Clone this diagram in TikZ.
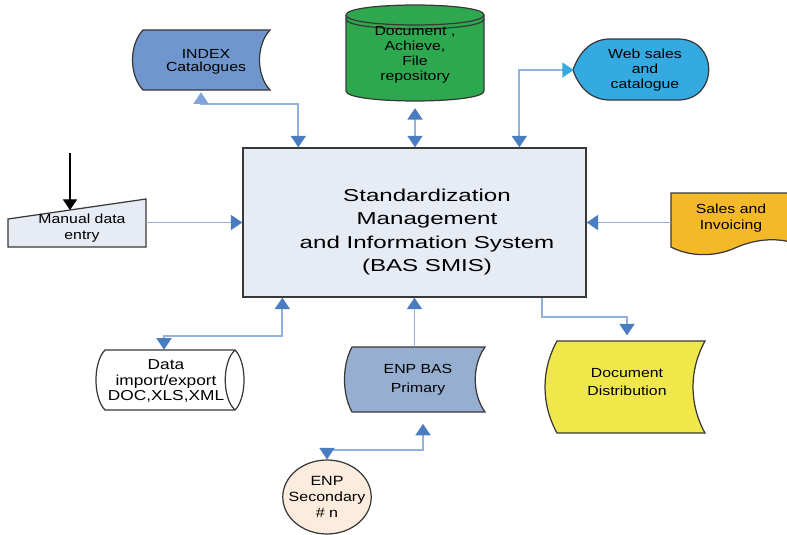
\documentclass[tikz,border=0pt]{standalone}
\usepackage{fontspec}
\usetikzlibrary{arrows.meta,calc,shapes.geometric}
\newfontfamily\labfont{Liberation Sans}[FakeStretch=1.2]
\newfontfamily\smisfont{Liberation Sans}[FakeStretch=1.4]

\definecolor{shapegray}{HTML}{383838}
\definecolor{boxfill}{HTML}{E7EBF4}
\definecolor{idxblue}{HTML}{7096CE}
\definecolor{docgreen}{HTML}{2EA84E}
\definecolor{webblue}{HTML}{34AAE0}
\definecolor{salesorange}{HTML}{F4B928}
\definecolor{pribas}{HTML}{96AED0}
\definecolor{distyellow}{HTML}{F0E84A}
\definecolor{secpeach}{HTML}{FCECDE}
\definecolor{linkblue}{HTML}{92B0DC}
\definecolor{headblue}{HTML}{4A7CC0}
\definecolor{lightheadblue}{HTML}{7FA3DA}

\tikzset{
  outline/.style={draw=shapegray,line width=0.7pt},
  lab/.style={font=\labfont\fontsize{7.5}{8.8}\selectfont,align=center,inner sep=0pt},
  link/.style={draw=linkblue,line width=1pt},
  hd/.tip={Triangle[width=8.5pt,length=6.5pt,color=headblue]},
  lhd/.tip={Triangle[width=8.5pt,length=6.5pt,color=lightheadblue]},
  whd/.tip={Triangle[width=8.5pt,length=6.5pt,color=webblue]},
}

\begin{document}
\begin{tikzpicture}[x=0.02cm,y=-0.02cm]
\useasboundingbox (0,0) rectangle (787,534);

% outlines
\filldraw[outline,fill=idxblue] (143,30) .. controls (129,45) and (129,75) .. (143,90) -- (270,90) .. controls (256,75) and (256,45) .. (270,30) -- cycle;
\filldraw[outline,fill=docgreen] (346,15) -- (346,91) .. controls (346,104.3) and (484,104.3) .. (484,91) -- (484,15) .. controls (484,1.7) and (346,1.7) .. (346,15) -- cycle;
\draw[outline] (346,15) .. controls (346,28.3) and (484,28.3) .. (484,15);
\draw[outline] (346,19) .. controls (346,32.3) and (484,32.3) .. (484,19);
\filldraw[outline,fill=webblue] (573,70) .. controls (580,50) and (593,39) .. (610,39) -- (678,39) .. controls (719,39) and (719,100) .. (678,100) -- (610,100) .. controls (593,100) and (580,90) .. (573,70) -- cycle;
\filldraw[outline,fill=boxfill] (8,219) -- (146,199) -- (146,247) -- (8,247) -- cycle;
\filldraw[outline,fill=salesorange] (671,193) -- (671,247) .. controls (690,257) and (715,257) .. (735,248) .. controls (755,239) and (775,238) .. (790,242) -- (790,193) -- cycle;
\filldraw[outline,fill=white] (105,350) .. controls (93,362) and (93,398) .. (105,410) -- (235,410) .. controls (247,398) and (247,362) .. (235,350) -- cycle;
\draw[outline] (235,350) .. controls (222,362) and (222,398) .. (235,410);
\filldraw[outline,fill=pribas] (352,347) .. controls (342,365) and (342,394) .. (352,412) -- (485,412) .. controls (472,394) and (472,365) .. (485,347) -- cycle;
\filldraw[outline,fill=distyellow] (557,341) .. controls (541,370) and (541,404) .. (557,433) -- (705,433) .. controls (689,404) and (689,370) .. (705,341) -- cycle;

% nodes
\node[draw=shapegray,fill=boxfill,line width=0.8pt,minimum width=6.86cm,minimum height=2.98cm] (main) at (414.5,222.5) {};
\node[font=\smisfont\fontsize{9.8}{13.4}\selectfont,align=center,inner sep=0pt] (smis) at (427,232) {Standardization\\Management\\and Information System\\(BAS SMIS)};

\node[lab,font=\labfont\fontsize{7.5}{7.6}\selectfont,minimum width=2.54cm,minimum height=1.2cm] (idx) at (206,62) {INDEX\\Catalogues};
\node[lab,font=\labfont\fontsize{7.5}{8.5}\selectfont,minimum width=2.8cm,minimum height=1.9cm] (doc) at (415,55) {Document ,\\Achieve,\\File\\repository};
\node[lab,font=\labfont\fontsize{7.5}{8.5}\selectfont,minimum width=2.84cm,minimum height=1.24cm] (web) at (645,70) {Web sales\\and\\catalogue};
\node[lab,minimum width=2.56cm,minimum height=0.76cm] (man) at (82,228) {Manual data\\entry};
\node[lab,minimum width=2.4cm,minimum height=1cm] (sal) at (731,218) {Sales and\\Invoicing};
\node[lab,font=\labfont\fontsize{8.2}{9}\selectfont,minimum width=2.96cm,minimum height=1.24cm] (dat) at (166,381) {Data\\import/export\\DOC,XLS,XML};
\node[lab,font=\labfont\fontsize{7.5}{10.8}\selectfont,minimum width=2.66cm,minimum height=1.3cm] (pri) at (418,380) {ENP BAS\\Primary};
\node[lab,font=\labfont\fontsize{7.5}{10.5}\selectfont,minimum width=2.8cm,minimum height=1.64cm] (dis) at (627,382) {Document\\Distribution};
\node[lab,ellipse,draw=shapegray,line width=0.7pt,fill=secpeach,font=\labfont\fontsize{7.6}{9}\selectfont,inner xsep=-4pt,inner ysep=0pt,minimum width=1.76cm,minimum height=1.48cm] (sec) at (327,497) {ENP\\Secondary\\\# n};

\coordinate (manin) at (70,153);
\coordinate (mantop) at (70,210);

% connectors
\draw[link,{hd}-{lhd}] ($(main.north west)+(56,0)$) -- ++(0,-43) -| ($(idx.south)+(-5,0)$);
\draw[link,{hd}-{hd},shorten <=3pt] (doc.south) -- (doc.south |- main.north);
\draw[link,{hd}-{whd}] ($(main.north west)+(277,0)$) |- (web.west);
\draw[black,line width=0.6pt,-{Triangle[width=8pt,length=6pt]}] (manin) -- (mantop);
\draw[link,-{hd}] (main.west -| man.east) -- (main.west);
\draw[link,-{hd}] (main.east -| sal.west) -- (main.east);
\draw[link,{hd}-{hd}] ($(main.south west)+(40,0)$) -- ++(0,38) -| ($(dat.north)+(-2,0)$);
\draw[link,-{hd}] (pri.north -| main.south) -- (main.south);
\draw[link,{hd}-{hd}] ($(pri.south)+(5,11)$) -- ++(0,26) -| (sec.north);
\draw[link,-{hd},shorten >=3pt] ($(main.south west)+(300,0)$) -- ++(0,19) -| (dis.north);

\end{tikzpicture}
\end{document}
